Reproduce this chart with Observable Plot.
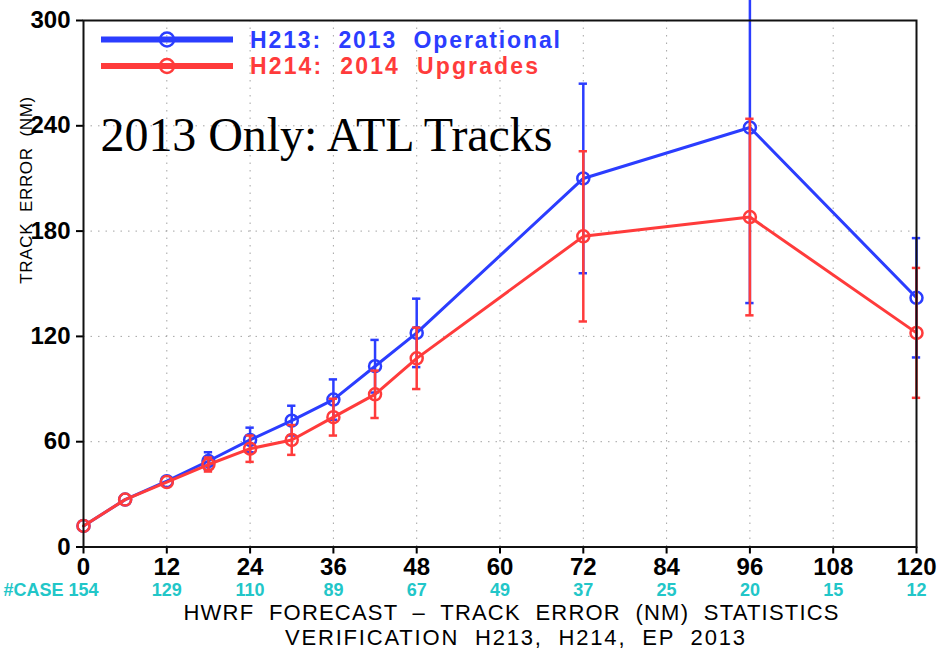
<!DOCTYPE html>
<html>
<head>
<meta charset="utf-8">
<script src="https://cdn.jsdelivr.net/npm/d3@7"></script>
<script src="https://cdn.jsdelivr.net/npm/@observablehq/plot@0.6"></script>
<style>
  html, body { margin: 0; padding: 0; background: white; }
  #chart { position: relative; width: 941px; height: 649px; overflow: hidden; }
</style>
</head>
<body>
<div id="chart"></div>
<script>
// ---- data ----
const hours = [0, 6, 12, 18, 24, 30, 36, 42, 48, 72, 96, 120];
const h213 = [12, 27, 37.5, 49, 61, 72, 84, 103, 122, 210, 239, 142];
const h213Err = [0, 0, 0, 5, 7, 8.5, 11.5, 15, 19.5, 54, 100, 34];
const h214 = [12, 27, 37, 47, 56, 61, 74, 87, 107.5, 177, 188, 122];
const h214Err = [0, 0, 0, 4, 7.5, 8.5, 10.5, 13.5, 17.5, 48.5, 56, 37];
const xTicks = [0, 12, 24, 36, 48, 60, 72, 84, 96, 108, 120];
const yTicks = [0, 60, 120, 180, 240, 300];
const caseCounts = [154, 129, 110, 89, 67, 49, 37, 25, 20, 15, 12];
const seriesNames = ["H213:  2013  Operational", "H214:  2014  Upgrades"];
const yTitle = "TRACK  ERROR  (NM)";
const caption1 = "HWRF  FORECAST  \u2013  TRACK  ERROR  (NM)  STATISTICS";
const caption2 = "VERIFICATION  H213,  H214,  EP  2013";
const overlayTitle = "2013 Only: ATL Tracks";

const BLUE = "#2b3dff";
const RED = "#ff3b3b";
const CYAN = "#22c6c8";
const SANS = "'Liberation Sans', Arial, sans-serif";

const s213 = hours.map((h, i) => ({h, v: h213[i], e: h213Err[i]}));
const s214 = hours.map((h, i) => ({h, v: h214[i], e: h214Err[i]}));
const cases = xTicks.map((h, i) => ({h, n: caseCounts[i]}));
const capHalf = 0.6;

function seriesMarks(data, color) {
  const withErr = data.filter(d => d.e > 0);
  return [
    Plot.line(data, {x: "h", y: "v", stroke: color, strokeWidth: 3}),
    Plot.ruleX(withErr, {x: "h", y1: d => d.v - d.e, y2: d => d.v + d.e, stroke: color, strokeWidth: 2.5}),
    Plot.ruleY(withErr, {y: d => d.v - d.e, x1: d => d.h - capHalf, x2: d => d.h + capHalf, stroke: color, strokeWidth: 2.5}),
    Plot.ruleY(withErr, {y: d => d.v + d.e, x1: d => d.h - capHalf, x2: d => d.h + capHalf, stroke: color, strokeWidth: 2.5}),
    Plot.dot(data, {x: "h", y: "v", r: 6, stroke: color, strokeWidth: 2.5, fill: "none"})
  ];
}

const chart = Plot.plot({
  width: 941,
  height: 649,
  marginLeft: 83,
  marginRight: 25,
  marginTop: 20,
  marginBottom: 102.5,
  style: {fontFamily: SANS, background: "white", color: "black"},
  x: {domain: [0, 120]},
  y: {domain: [0, 300]},
  marks: [
    Plot.gridX(xTicks, {stroke: "#9a9a9a", strokeOpacity: 0.9, strokeDasharray: "1.5,6"}),
    Plot.gridY(yTicks, {stroke: "#9a9a9a", strokeOpacity: 0.9, strokeDasharray: "1.5,6"}),
    Plot.axisX(xTicks, {tickSize: 7, tickPadding: 4, fontSize: 24, fontWeight: "bold", label: null, tickFormat: d => String(d), strokeWidth: 2}),
    Plot.axisY(yTicks, {tickSize: 7, tickPadding: 6, fontSize: 24, fontWeight: "bold", label: null, tickFormat: d => String(d), strokeWidth: 2}),
    Plot.text([yTitle], {frameAnchor: "left", rotate: -90, dx: -56.5, fontSize: 17, text: d => d}),
    Plot.text(cases, {x: "h", y: 0, text: d => String(d.n), dy: 43, fill: CYAN, fontSize: 18, fontWeight: "bold"}),
    Plot.text(["#CASE"], {x: 0, y: 0, text: d => d, dy: 43, dx: -20, textAnchor: "end", fill: CYAN, fontSize: 18, fontWeight: "bold"}),
    Plot.text([caption1], {frameAnchor: "bottom", lineAnchor: "middle", dx: 11, dy: 66, text: d => d, fontSize: 22}),
    Plot.text([caption2], {frameAnchor: "bottom", lineAnchor: "middle", dx: 15, dy: 90.5, text: d => d, fontSize: 22}),
    Plot.text([overlayTitle], {frameAnchor: "top-left", dx: 17, dy: 130, lineAnchor: "bottom", text: d => d, fontSize: 48, fontFamily: "'Liberation Serif', 'DejaVu Serif', serif"}),
    ...seriesMarks(s213, BLUE),
    ...seriesMarks(s214, RED),
    Plot.frame({stroke: "#111", strokeWidth: 2})
  ]
});

const svg = d3.select(chart);

// stretch the wide-spaced texts to the widths they take in the reference
const widths = new Map([[yTitle, 187], [caption1, 655], [caption2, 460], [overlayTitle, 452]]);
svg.selectAll("text").each(function () {
  const w = widths.get(this.textContent);
  if (w) d3.select(this).attr("textLength", w).attr("lengthAdjust", "spacing");
});

// legend inside the plot area (top-left)
const legend = svg.append("g").attr("font-family", SANS).attr("text-anchor", "start");
[[BLUE, 39.5, 310], [RED, 66, 288]].forEach(([c, y, w], i) => {
  legend.append("line").attr("x1", 101).attr("x2", 233).attr("y1", y).attr("y2", y)
    .attr("stroke", c).attr("stroke-width", 6);
  legend.append("circle").attr("cx", 167).attr("cy", y).attr("r", 7)
    .attr("fill", "none").attr("stroke", c).attr("stroke-width", 2.5);
  legend.append("text").attr("x", 250).attr("y", y).attr("dy", "0.35em")
    .attr("fill", c).attr("font-size", 23).attr("font-weight", "bold")
    .attr("textLength", w).attr("lengthAdjust", "spacing")
    .style("white-space", "pre").text(seriesNames[i]);
});

document.getElementById("chart").appendChild(chart);
</script>
</body>
</html>
